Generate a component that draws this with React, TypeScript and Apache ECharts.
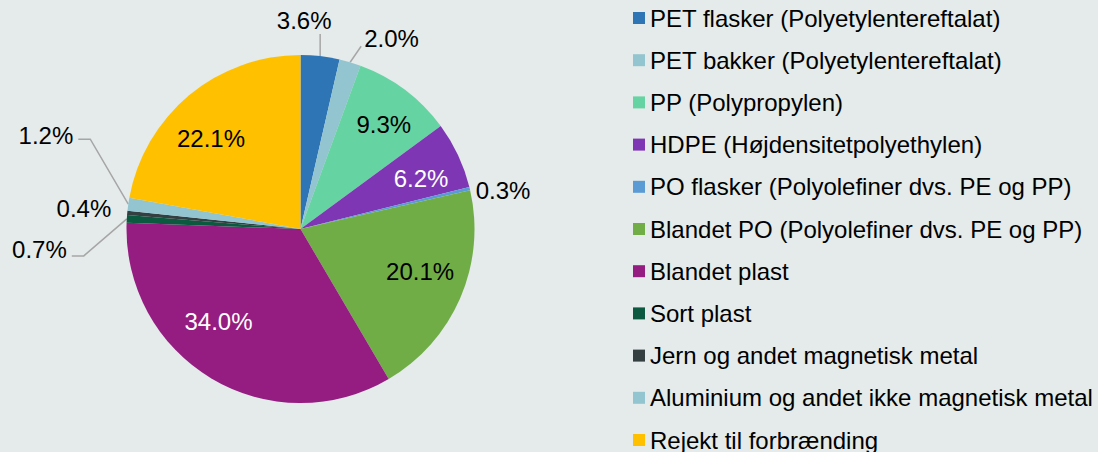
import React, { useEffect, useRef } from "react";
import * as echarts from "echarts";

const categories = [
  "PET flasker (Polyetylentereftalat)",
  "PET bakker (Polyetylentereftalat)",
  "PP (Polypropylen)",
  "HDPE (Højdensitetpolyethylen)",
  "PO flasker (Polyolefiner dvs. PE og PP)",
  "Blandet PO (Polyolefiner dvs. PE og PP)",
  "Blandet plast",
  "Sort plast",
  "Jern og andet magnetisk metal",
  "Aluminium og andet ikke magnetisk metal",
  "Rejekt til forbrænding",
];

const values = [3.6, 2.0, 9.3, 6.2, 0.3, 20.1, 34.0, 0.7, 0.4, 1.2, 22.1];

const colors = [
  "#2E75B6",
  "#92C5D0",
  "#66D3A2",
  "#7E36B4",
  "#5B9BD5",
  "#70AD47",
  "#951C80",
  "#0B5A3F",
  "#333F40",
  "#92C5D0",
  "#FFC000",
];

// label styling / placement (not data)
const CX = 300.5;
const CY = 229;
const R = 174;
const FONT = "'Liberation Sans', Arial, sans-serif";
const BG = "#E4EBEA";
const WHITE_LABELS = [3, 6];

const INSIDE_LABEL: Record<number, { dA: number; rf: number }> = {
  2: { dA: 1.5, rf: 0.77 },
  3: { dA: 2.6, rf: 0.75 },
  5: { dA: -3.6, rf: 0.73 },
  6: { dA: 10.8, rf: 0.71 },
  10: { dA: -5, rf: 0.73 },
};

const OUTSIDE_LABEL: Record<
  number,
  { bend?: [number, number]; tail?: number; text: [number, number]; align: string }
> = {
  0: { bend: [0, -22], tail: 0, text: [-16, -14], align: "center" },
  1: { bend: [11, -16], tail: 0, text: [3, -8], align: "left" },
  4: { text: [6, 2], align: "left" },
  7: { bend: [-43, 37], tail: -12, text: [-5, -6], align: "right" },
  8: { text: [-16, -4], align: "right" },
  9: { bend: [-38, -65], tail: -12, text: [-5, -4], align: "right" },
};

const total = values.reduce((a, b) => a + b, 0);
function midAngle(i: number): number {
  let before = 0;
  for (let k = 0; k < i; k++) before += values[k];
  return ((before + values[i] / 2) / total) * Math.PI * 2;
}
function polar(a: number, r: number): [number, number] {
  return [CX + r * Math.sin(a), CY - r * Math.cos(a)];
}

export default function App() {
  const ref = useRef<HTMLDivElement>(null);
  useEffect(() => {
    if (!ref.current) return;
    const chart = echarts.init(ref.current, null, { renderer: "svg" });
    const data = values.map((v, i) => {
      const inside = INSIDE_LABEL[i] != null;
      const out = OUTSIDE_LABEL[i];
      return {
        name: categories[i],
        value: v,
        itemStyle: { color: colors[i] },
        label: {
          position: inside ? "inside" : "outside",
          color: WHITE_LABELS.includes(i) ? "#FFFFFF" : "#000000",
        },
        labelLine: { show: !inside && !!(out && out.bend) },
      };
    });
    chart.setOption({
      animation: false,
      backgroundColor: BG,
      legend: {
        orient: "vertical",
        left: 633,
        top: 6,
        height: 600,
        padding: 0,
        itemWidth: 12,
        itemHeight: 12,
        itemGap: 18.2,
        icon: "rect",
        selectedMode: false,
        textStyle: { fontSize: 24, lineHeight: 24, fontFamily: FONT, color: "#000000" },
        data: categories,
      },
      series: [
        {
          type: "pie",
          center: [CX, CY],
          radius: R,
          startAngle: 90,
          clockwise: true,
          avoidLabelOverlap: false,
          emphasis: { disabled: true },
          itemStyle: { borderWidth: 0 },
          label: {
            fontSize: 24,
            fontFamily: FONT,
            formatter: (p: any) => Number(p.value).toFixed(1) + "%",
          },
          labelLine: {
            lineStyle: { color: "#A6A6A6", width: 1.5 },
            smooth: false,
          },
          labelLayout: (params: any) => {
            const i = params.dataIndex;
            const a = midAngle(i);
            const ins = INSIDE_LABEL[i];
            if (ins) {
              const [x, y] = polar(a + (ins.dA * Math.PI) / 180, ins.rf * R);
              return { x, y, align: "center", verticalAlign: "middle" };
            }
            const out = OUTSIDE_LABEL[i];
            if (!out) return {};
            const edge = polar(a, R);
            let end: [number, number] = edge;
            const res: any = { align: out.align, verticalAlign: "middle" };
            if (out.bend) {
              const elbow: [number, number] = [edge[0] + out.bend[0], edge[1] + out.bend[1]];
              end = [elbow[0] + (out.tail || 0), elbow[1]];
              res.labelLinePoints = [edge, elbow, end];
            }
            res.x = end[0] + out.text[0];
            res.y = end[1] + out.text[1];
            return res;
          },
          data,
        },
      ],
    });
    return () => chart.dispose();
  }, []);
  return (
    <div
      ref={ref}
      style={{ position: "fixed", left: 0, top: 0, width: 1098, height: 452, background: BG }}
    />
  );
}
